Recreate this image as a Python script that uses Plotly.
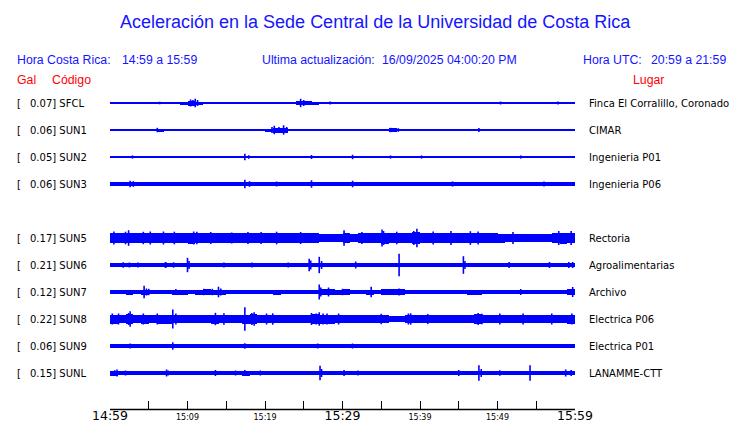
import plotly.graph_objects as go

# ---------------- data ----------------
codes = ["SFCL", "SUN1", "SUN2", "SUN3", "SUN5", "SUN6", "SUN7", "SUN8", "SUN9", "SUNL"]
gal = ["0.07", "0.06", "0.05", "0.06", "0.17", "0.21", "0.12", "0.22", "0.06", "0.15"]
places = ["Finca El Corralillo, Coronado", "CIMAR", "Ingenieria P01", "Ingenieria P06",
          "Rectoria", "Agroalimentarias", "Archivo", "Electrica P06", "Electrica P01", "LANAMME-CTT"]
rows = [0, 1, 2, 3, 5, 6, 7, 8, 9, 10]

tick_minutes = [0, 5, 10, 15, 20, 25, 30, 35, 40, 45, 50, 55, 60]
tick_labels = ["14:59", "", "15:09", "", "15:19", "", "15:29", "", "15:39", "", "15:49", "", "15:59"]
big_ticks = ["14:59", "15:29", "15:59"]

# per-minute envelope (background band half-amplitude, relative units)
band_SFCL = [0.5]*9 + [1.5, 2.5, 1.5] + [0.5]*11 + [1.0, 2.0, 2.0, 1.5] + [0.5]*33
band_SUN1 = [1.3, 1.2, 1.3, 1.3, 1.3, 1.2, 1.5, 1.3, 1.3, 1.2,
             0.9, 1.1, 1.2, 1.1, 1.0, 1.1, 0.9, 0.9, 1.1, 1.2,
             1.5, 2.5, 2.5, 1.3, 1.1, 1.2, 1.2, 1.1, 1.2, 1.2,
             1.2, 1.2, 1.2, 1.2, 1.2, 1.3, 1.6, 1.3, 1.3, 1.0,
             1.3, 1.2, 1.3, 1.3, 1.3, 1.3, 1.2, 1.3, 1.3, 1.2,
             1.3, 1.2, 1.3, 1.3, 1.2, 1.3, 1.3, 1.2, 1.3, 1.3]
band_SUN2 = [0.9, 1.0, 1.0, 0.6, 0.8, 0.6, 0.7, 0.8, 0.9, 0.8,
             0.5, 0.6, 0.9, 0.5, 0.5, 0.6, 0.8, 1.0, 0.6, 0.7,
             0.5, 0.5, 0.5, 0.8, 0.9, 1.0, 0.8, 0.6, 0.8, 0.8,
             0.9, 0.9, 0.6, 0.8, 0.8, 0.9, 0.8, 0.6, 0.8, 0.7,
             0.8, 0.9, 0.9, 0.9, 0.8, 0.5, 0.8, 0.9, 0.5, 0.7,
             0.9, 0.8, 0.8, 0.9, 0.8, 0.6, 0.8, 0.7, 0.8, 0.8]
band_SUN3 = [2.0, 2.0, 2.4, 2.2, 2.0, 2.2, 2.2, 2.1, 2.1, 2.1,
             2.0, 2.0, 1.9, 1.6, 1.6, 1.7, 1.7, 2.3, 2.0, 1.8,
             1.8, 2.1, 2.0, 2.0, 2.2, 2.3, 2.0, 1.9, 2.0, 1.9,
             2.0, 2.2, 2.1, 1.9, 2.0, 2.0, 1.9, 2.0, 2.1, 2.0,
             1.9, 2.0, 2.1, 2.1, 2.2, 2.1, 2.1, 2.2, 2.1, 2.2,
             2.2, 2.2, 2.1, 2.1, 2.2, 2.2, 2.1, 2.1, 2.2, 2.1]
band_SUN5 = [4.8, 4.8, 5.3, 5.0, 5.3, 4.8, 5.3, 5.3, 5.0, 5.0,
             5.5, 5.0, 4.8, 4.9, 4.9, 5.0, 4.8, 5.0, 4.8, 4.9,
             5.0, 5.3, 5.0, 4.9, 4.8, 4.9, 4.8, 4.0, 3.7, 3.9,
             5.0, 4.2, 4.8, 4.9, 4.9, 5.5, 4.8, 5.0, 5.0, 5.8,
             5.0, 4.9, 4.8, 5.0, 5.0, 5.0, 5.0, 5.0, 4.9, 4.8,
             4.5, 4.2, 4.2, 4.2, 4.4, 4.2, 4.4, 5.0, 5.5, 5.3]
band_SUN6 = [2.0, 1.8, 2.0, 1.8, 1.7, 1.7, 1.7, 1.7, 1.7, 1.7,
             1.7, 1.7, 1.7, 1.7, 1.7, 1.7, 1.7, 1.7, 1.7, 1.7,
             1.7, 1.7, 1.7, 1.7, 1.7, 2.2, 2.2, 2.2, 1.7, 1.7,
             1.7, 1.7, 1.7, 1.7, 2.0, 1.7, 1.7, 1.7, 1.7, 1.7,
             1.7, 1.7, 1.7, 1.7, 1.7, 1.7, 1.7, 1.7, 1.7, 1.7,
             1.7, 2.0, 2.0, 1.7, 1.7, 1.7, 1.7, 1.7, 1.7, 1.7]
band_SUN7 = [2.0, 2.0, 2.5, 2.3, 2.5, 2.2, 1.8, 1.8, 2.5, 2.5,
             2.3, 2.5, 2.7, 2.5, 2.5, 2.3, 2.0, 2.3, 2.2, 2.0,
             2.3, 2.5, 2.3, 2.0, 2.2, 2.0, 2.0, 2.7, 2.6, 2.5,
             2.6, 2.4, 2.3, 2.5, 2.4, 2.6, 2.6, 2.6, 2.3, 2.3,
             2.2, 2.3, 2.2, 2.3, 2.3, 2.2, 2.5, 2.5, 2.4, 2.4,
             2.3, 2.3, 2.4, 2.3, 2.4, 2.3, 2.4, 2.4, 2.3, 2.6]
band_SUN8 = [4.5, 4.3, 5.0, 4.3, 4.5, 4.3, 4.5, 4.5, 4.3, 4.3,
             4.3, 4.3, 4.3, 4.5, 4.3, 4.0, 4.0, 4.5, 5.0, 4.3,
             4.3, 4.3, 4.0, 4.3, 4.3, 4.3, 4.7, 4.5, 4.5, 4.3,
             4.3, 4.3, 4.3, 4.0, 4.1, 3.8, 3.0, 3.0, 4.0, 4.3,
             4.1, 4.0, 4.3, 4.2, 4.1, 4.0, 4.3, 4.7, 4.3, 4.1,
             4.1, 4.1, 4.2, 4.1, 4.3, 4.3, 4.1, 4.3, 4.3, 4.5]
band_SUN9 = [1.7]*60
band_SUNL = [2.5, 2.3, 2.0, 2.3, 2.2, 1.9, 1.9, 2.3, 2.3, 2.3,
             2.2, 2.0, 1.8, 2.3, 1.8, 2.0, 2.3, 2.5, 1.8, 2.3,
             2.3, 2.0, 1.9, 2.0, 2.0, 2.0, 2.2, 2.3, 1.8, 1.9,
             2.3, 2.0, 2.0, 1.9, 1.8, 2.2, 2.1, 2.0, 2.1, 1.8,
             1.9, 1.8, 1.9, 1.8, 2.0, 2.3, 2.3, 2.4, 2.2, 2.0,
             2.1, 2.0, 2.2, 2.2, 2.1, 2.0, 2.1, 2.0, 1.9, 2.3]

# spikes: (minute since 14:59, peak half-amplitude, relative units)
peaks_SFCL = [(6.4, 1.3), (8.6, 1.0), (10.4, 3.5), (10.7, 3.0), (11.0, 4.3), (11.3, 3.0),
              (16.8, 1.0), (24.6, 4.2), (25.0, 3.0), (27.3, 1.0), (28.4, 1.5), (50.4, 1.5), (57.8, 1.5)]
peaks_SUN1 = [(6.1, 2.2), (20.9, 3.0), (21.2, 4.2), (21.8, 3.0), (22.4, 4.7), (22.8, 3.0),
              (36.2, 2.2), (37.2, 1.8), (47.6, 2.0)]
peaks_SUN2 = [(2.9, 1.6), (17.4, 3.3), (17.9, 1.8), (26.0, 2.0), (31.3, 2.2), (36.2, 1.6),
              (40.2, 1.6), (53.0, 1.6)]
peaks_SUN3 = [(2.6, 3.3), (3.0, 2.8), (17.4, 4.3), (18.0, 2.8), (21.5, 2.5), (26.0, 3.7),
              (31.3, 3.3), (44.2, 2.6), (56.0, 2.5)]
peaks_SUN5 = [(0.5, 6.5), (2.0, 6.3), (2.4, 7.8), (4.3, 6.2), (5.2, 6.5), (6.9, 6.5),
              (8.3, 6.3), (10.8, 6.5), (11.2, 6.3), (13.0, 6.0), (15.7, 5.5), (17.8, 6.0),
              (19.5, 6.0), (21.5, 6.3), (24.6, 6.0), (30.2, 7.7), (32.5, 6.0), (35.1, 8.5),
              (35.3, 7.0), (37.0, 6.3), (39.2, 7.0), (39.6, 9.2), (41.7, 6.5), (44.0, 7.0),
              (46.5, 6.8), (47.5, 6.5), (52.0, 6.0), (57.9, 7.0), (59.5, 7.0)]
peaks_SUN6 = [(1.7, 2.7), (2.5, 2.5), (3.6, 2.5), (7.1, 2.5), (7.2, 3.0), (8.2, 2.7),
              (10.0, 7.2), (10.2, 4.0), (14.7, 2.5), (18.3, 2.5), (23.0, 2.5), (25.7, 6.2),
              (25.9, 4.5), (27.0, 8.2), (27.3, 4.0), (31.7, 3.5), (37.3, 11.2), (45.6, 8.8),
              (45.8, 4.0), (51.5, 3.0), (56.7, 3.0), (59.2, 3.0), (59.7, 3.0)]
peaks_SUN7 = [(4.4, 6.2), (4.7, 3.5), (5.0, 3.2), (8.5, 3.0), (12.1, 3.2), (13.2, 3.2),
              (14.0, 5.3), (14.3, 3.5), (27.0, 7.5), (27.2, 4.5), (28.2, 4.5), (30.0, 3.2),
              (33.7, 5.3), (37.3, 3.5), (53.0, 3.0), (59.7, 5.0)]
peaks_SUN8 = [(0.3, 5.5), (1.1, 5.5), (2.4, 6.0), (2.6, 7.7), (4.3, 5.5), (6.1, 5.5),
              (8.1, 9.5), (8.5, 5.5), (13.6, 6.2), (14.7, 5.7), (17.4, 11.7), (18.3, 6.0),
              (18.6, 6.7), (20.2, 5.5), (21.0, 5.7), (26.0, 6.0), (26.6, 5.5), (27.0, 6.7),
              (27.5, 5.5), (28.0, 5.5), (29.5, 5.5), (35.0, 5.2), (38.5, 5.5), (38.8, 5.7),
              (41.0, 5.0), (47.5, 6.0), (48.0, 5.3), (50.3, 5.5), (53.3, 5.5), (57.0, 5.5),
              (59.6, 5.5)]
peaks_SUN9 = [(2.6, 2.5), (5.7, 2.0), (8.1, 3.7), (15.0, 2.0), (17.4, 2.7), (22.5, 2.0),
              (26.8, 2.5), (31.3, 2.5), (35.5, 2.0), (52.0, 2.0)]
peaks_SUNL = [(0.6, 2.8), (0.9, 3.5), (2.0, 2.5), (7.3, 3.5), (7.5, 2.5), (13.6, 3.0),
              (16.2, 2.5), (17.4, 3.0), (19.4, 2.5), (27.1, 7.3), (27.3, 4.0), (30.2, 3.0),
              (32.0, 2.5), (45.0, 3.0), (47.6, 7.7), (47.9, 4.0), (50.3, 2.8), (54.2, 7.8),
              (58.8, 3.5), (59.5, 3.0)]

bands = [band_SFCL, band_SUN1, band_SUN2, band_SUN3, band_SUN5,
         band_SUN6, band_SUN7, band_SUN8, band_SUN9, band_SUNL]
peaks = [peaks_SFCL, peaks_SUN1, peaks_SUN2, peaks_SUN3, peaks_SUN5,
         peaks_SUN6, peaks_SUN7, peaks_SUN8, peaks_SUN9, peaks_SUNL]

# ---------------- figure ----------------
W, H = 740, 423
L, R, T, B = 110, 165, 90, 14
PW, PH = W - L - R, H - T - B
SCALE = 1.0 / 27.0   # amplitude unit -> row spacing
BLUE = "#0000ff"
TXTBLUE = "#1414ff"
RED = "#ff0000"

fig = go.Figure()
for k, band, pk in zip(rows, bands, peaks):
    off = -k
    fig.add_trace(go.Bar(
        x=[m + 0.5 for m in range(len(band))],
        y=[2 * a * SCALE for a in band],
        base=[off - a * SCALE for a in band],
        width=1.0, marker=dict(color=BLUE, line=dict(width=0)),
        showlegend=False, hoverinfo="skip"))
    xs, ys = [], []
    for t, a in pk:
        xs += [t, t, None]
        ys += [off - a * SCALE, off + a * SCALE, None]
    fig.add_trace(go.Scatter(x=xs, y=ys, mode="lines",
                             line=dict(color=BLUE, width=1.6),
                             showlegend=False, hoverinfo="skip"))

ticktext = []
for lab in tick_labels:
    if lab in big_ticks:
        ticktext.append("<span style='font-size:12.5px'>%s</span>" % lab)
    else:
        ticktext.append(lab)

fig.update_layout(
    width=W, height=H,
    margin=dict(l=L, r=R, t=T, b=B, autoexpand=False),
    paper_bgcolor="white", plot_bgcolor="white",
    barmode="overlay", bargap=0,
    xaxis=dict(range=[0, 60], tickvals=tick_minutes, ticktext=ticktext,
               ticks="inside", ticklen=8, tickwidth=1, tickcolor="black",
               showline=True, linecolor="black", linewidth=1,
               showgrid=False, zeroline=False,
               tickfont=dict(family="DejaVu Sans", size=8, color="black"),
               tickangle=0, fixedrange=True),
    yaxis=dict(range=[-(409 - 103) / 27.0, 13 / 27.0], visible=False,
               showgrid=False, zeroline=False, fixedrange=True),
)
# time-axis baseline along the bottom of the plotting area
fig.add_shape(type="line", xref="x", x0=tick_minutes[0], x1=tick_minutes[-1],
              yref="paper", y0=-0.5 / PH, y1=-0.5 / PH,
              line=dict(color="black", width=1.3), layer="above")


def px(xp):
    return (xp - L) / PW


def py(yp):
    return (H - B - yp) / PH


def note(text, xp, yp, color="black", size=10, family="DejaVu Sans", anchor="left"):
    fig.add_annotation(text=text, x=px(xp), y=py(yp), xref="paper", yref="paper",
                       xanchor=anchor, yanchor="middle", showarrow=False,
                       font=dict(color=color, size=size, family=family))


note("Aceleración en la Sede Central de la Universidad de Costa Rica", 375.5, 22,
     color=TXTBLUE, size=18, family="Liberation Sans", anchor="center")
hdr = dict(color=TXTBLUE, size=12.3, family="Liberation Sans")
note("Hora Costa Rica:", 15, 60, **hdr)
note("14:59 a 15:59", 120, 60, **hdr)
note("Ultima actualización:", 260, 60, **hdr)
note("16/09/2025 04:00:20 PM", 380, 60, **hdr)
note("Hora UTC:", 580.5, 60, **hdr)
note("20:59 a 21:59", 649, 60, **hdr)
red = dict(color=RED, size=12.3, family="Liberation Sans")
note("Gal", 15, 80, **red)
note("Código", 50, 80, **red)
note("Lugar", 630.5, 80, **red)

for k, g, c, p in zip(rows, gal, codes, places):
    yrow = 103 + 27 * k
    note("[", 15, yrow)
    note(g + "] " + c, 28, yrow)
    note(p, 587, yrow)

fig.write_html("out.html", config={"displayModeBar": False},
               post_script="document.body.style.margin='0';document.body.style.overflow='hidden';")
